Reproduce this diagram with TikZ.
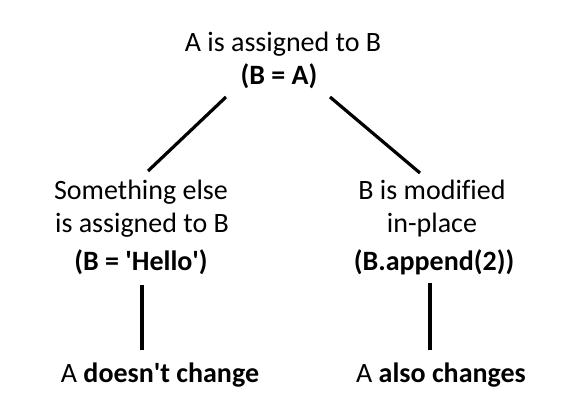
\documentclass[tikz,border=0pt]{standalone}
\usepackage{fontspec}
\setmainfont{Carlito}[Ligatures={NoCommon}]
\begin{document}
\begin{tikzpicture}[x=1pt,y=-1pt,
  txt/.style={anchor=base,inner sep=0pt,font=\fontsize{28}{34}\selectfont},
  conn/.style={line width=3.2pt,black}]
\useasboundingbox (0,0) rectangle (568,417);
% top
\node[txt] (t1) at (283,52) {A is assigned to B};
\node[txt] (t2) at (279,85) {\bfseries (B = A)};
% left
\node[txt] (l1) at (141,200) {Something else};
\node[txt] (l2) at (142,233) {is assigned to B};
\node[txt] (l3) at (141,270) {\bfseries (B = \textquotesingle Hello\textquotesingle)};
% right
\node[txt] (r1) at (432,200) {B is modified};
\node[txt] (r2) at (432,233) {in-place};
\node[txt] (r3) at (434,270) {\bfseries (B.append(2))};
% bottom
\node[txt] (bl) at (160,382) {A \textbf{doesn\textquotesingle t change}};
\node[txt] (br) at (441,382) {A \textbf{also changes}};
% connector endpoints
\coordinate (tl) at (226,97);
\coordinate (lt) at (148,171);
\coordinate (tr) at (330,97);
\coordinate (rt) at (420,173);
\coordinate (lb1) at (142,285);
\coordinate (lb2) at (142,350);
\coordinate (rb1) at (430,283);
\coordinate (rb2) at (430,350);
\draw[conn] (tl) -- (lt);
\draw[conn] (tr) -- (rt);
\draw[conn] (lb1) -- (lb2);
\draw[conn] (rb1) -- (rb2);
\end{tikzpicture}
\end{document}
